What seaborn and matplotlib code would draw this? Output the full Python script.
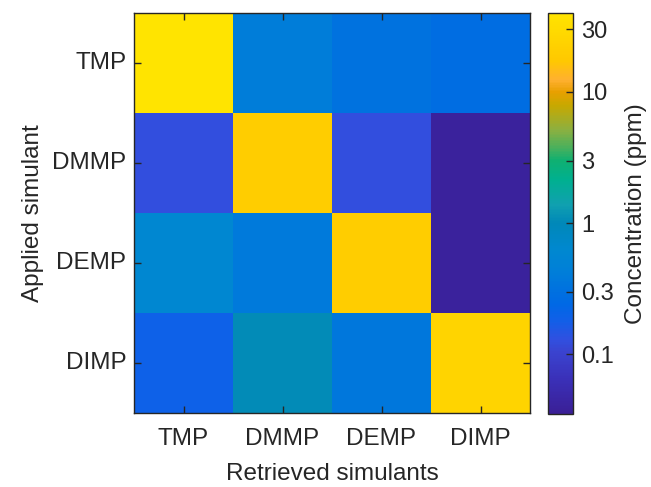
import numpy as np
import pandas as pd
import seaborn as sns
import matplotlib.pyplot as plt
from matplotlib.colors import LinearSegmentedColormap, LogNorm

# rows = applied simulant, columns = retrieved simulants (ppm)
applied = ["TMP", "DMMP", "DEMP", "DIMP"]
retrieved = ["TMP", "DMMP", "DEMP", "DIMP"]
row_tmp = [39.0, 0.41, 0.31, 0.27]
row_dmmp = [0.125, 19.8, 0.125, 0.04]
row_demp = [0.58, 0.38, 19.8, 0.04]
row_dimp = [0.19, 1.05, 0.36, 24.4]

cbar_ticks = [0.1, 0.3, 1, 3, 10, 30]
cbar_ticklabels = ["0.1", "0.3", "1", "3", "10", "30"]

# parula-like colours as they look in the picture
cmap_pos = [0.0, 0.085, 0.155, 0.185, 0.235, 0.272, 0.304, 0.359, 0.409, 0.477,
            0.522, 0.584, 0.634, 0.659, 0.709, 0.771, 0.804, 0.834, 0.883, 1.0]
cmap_hex = ["#3a1f96", "#3a30b8", "#3a44d0", "#3050e0", "#1060e8", "#0068e5",
            "#0070e0", "#0080d8", "#0088d0", "#0088b8", "#10a0b0", "#00b090",
            "#10b070", "#40b060", "#8cb040", "#c8a800", "#e8a000", "#ffb030",
            "#ffc800", "#ffe400"]
parula = LinearSegmentedColormap.from_list("parula_like", list(zip(cmap_pos, cmap_hex)), N=256)

df = pd.DataFrame([row_tmp, row_dmmp, row_demp, row_dimp], index=applied, columns=retrieved)

sns.set_theme(style="ticks")
plt.rcParams['font.family'] = ['Liberation Sans', 'DejaVu Sans']
txt = "#262626"
plt.rcParams["axes.axisbelow"] = False

fig = plt.figure(figsize=(6.51, 4.87), dpi=100)
ax = fig.add_axes([134 / 651, 1 - 413 / 487, 396 / 651, 400 / 487])
cax = fig.add_axes([548 / 651, 1 - 414 / 487, 25 / 651, 401 / 487])

sns.heatmap(df, ax=ax, cbar_ax=cax, cmap=parula, norm=LogNorm(vmin=0.035, vmax=40),
            linewidths=0, cbar_kws={"ticks": cbar_ticks})
ax.set_axisbelow(False)
cax.set_axisbelow(False)

for s in ax.spines.values():
    s.set_visible(True)
    s.set_color(txt)
    s.set_linewidth(1)
ax.tick_params(axis="both", which="major", direction="in", length=5, width=1, color=txt,
               top=True, right=True, bottom=True, left=True,
               labeltop=False, labelright=False,
               labelsize=17.5, labelcolor=txt)
ax.tick_params(axis="x", pad=11)
ax.tick_params(axis="y", pad=5.5)
ax.set_yticklabels(applied, rotation=0)
ax.set_xticklabels(retrieved, rotation=0)
ax.set_xlabel("Retrieved simulants", fontsize=17.5, color=txt, labelpad=9)
ax.set_ylabel("Applied simulant", fontsize=17.5, color=txt, labelpad=6)

cb = ax.collections[0].colorbar
cb.outline.set_linewidth(1)
cb.outline.set_edgecolor(txt)
cb.minorticks_off()
cb.set_ticks(cbar_ticks)
cb.set_ticklabels(cbar_ticklabels)
cax.tick_params(which="both", direction="in", length=5, width=1, color=txt,
                labelsize=17, labelcolor=txt, pad=6)
cb.set_label("Concentration (ppm)", fontsize=17.5, color=txt, labelpad=8)

fig.savefig("out.png", dpi=100)
